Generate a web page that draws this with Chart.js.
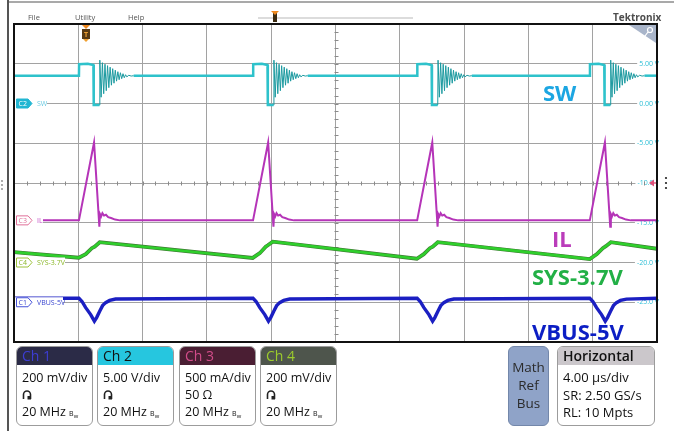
<!DOCTYPE html>
<html>
<head>
<meta charset="utf-8">
<title>Scope capture</title>
<script src="https://cdn.jsdelivr.net/npm/chart.js@4.4.1/dist/chart.umd.min.js"></script>
<style>
  body { margin: 0; width: 674px; height: 431px; position: relative; overflow: hidden; background: #fff; font-family: "Open Sans", sans-serif; }
  #scope { position: absolute; left: 0; top: 0; }
  .menu { position: absolute; top: 12px; font-size: 7.5px; color: #555; }
  .logo { position: absolute; left: 613px; top: 10px; font-size: 10px; font-weight: 700; color: #4d4d4d; }
  .big { position: absolute; font-size: 22px; font-weight: 700; line-height: 22px; white-space: nowrap; }
  .box { position: absolute; top: 346px; height: 80px; border: 1px solid #9c9c9c; border-radius: 6px; background: #fff; overflow: hidden; box-sizing: border-box; }
  .box .hd { height: 18px; line-height: 18px; padding-left: 5px; font-size: 14px; }
  .box .bd { padding: 4px 0 0 5px; font-size: 12.5px; line-height: 17px; color: #111; white-space: nowrap; }
  .bw { font-size: 7px; }
  .probe { display: inline-block; width: 10px; height: 10px; vertical-align: -1px; }
</style>
</head>
<body>
<canvas id="scope" width="674" height="431"></canvas>

<div class="menu" style="left:28px">File</div>
<div class="menu" style="left:75px">Utility</div>
<div class="menu" style="left:128px">Help</div>
<div style="position:absolute;left:258px;top:17px;width:155px;height:2px;background:#dcdcdc"></div>
<div style="position:absolute;left:273px;top:13px;width:4px;height:9px;background:#3a2a10"></div>
<div style="position:absolute;left:271px;top:11px;width:0;height:0;border-left:4px solid transparent;border-right:4px solid transparent;border-top:4px solid #f08a20"></div>
<div class="logo">Tektronix</div>

<div class="big" style="left:543px;top:81px;color:#1ca6e2">SW</div>
<div class="big" style="left:552px;top:227px;color:#ba3cba">IL</div>
<div class="big" style="left:532px;top:265px;color:#22b046">SYS-3.7V</div>
<div class="big" style="left:532px;top:320px;color:#0c1ec4">VBUS-5V</div>

<div class="box" style="left:16px;width:77px"><div class="hd" style="background:#2b2b47;color:#3d3dd4">Ch 1</div><div class="bd">200 mV/div<br><svg class="probe" viewBox="0 0 10 10"><path d="M1.5 9V4.5a3.5 3.5 0 0 1 7 0V9" fill="none" stroke="#222" stroke-width="1.6"/><rect x="5.5" y="6" width="3.5" height="3.5" fill="#222"/></svg><br>20 MHz <span class="bw">B<sub>w</sub></span></div></div>
<div class="box" style="left:97px;width:77px"><div class="hd" style="background:#26c6df;color:#111">Ch 2</div><div class="bd">5.00 V/div<br><svg class="probe" viewBox="0 0 10 10"><path d="M1.5 9V4.5a3.5 3.5 0 0 1 7 0V9" fill="none" stroke="#222" stroke-width="1.6"/><rect x="5.5" y="6" width="3.5" height="3.5" fill="#222"/></svg><br>20 MHz <span class="bw">B<sub>w</sub></span></div></div>
<div class="box" style="left:179px;width:77px"><div class="hd" style="background:#4a1e33;color:#d24c8a">Ch 3</div><div class="bd">500 mA/div<br>50 Ω<br>20 MHz <span class="bw">B<sub>w</sub></span></div></div>
<div class="box" style="left:260px;width:77px"><div class="hd" style="background:#4e554c;color:#9ccc2c">Ch 4</div><div class="bd">200 mV/div<br><svg class="probe" viewBox="0 0 10 10"><path d="M1.5 9V4.5a3.5 3.5 0 0 1 7 0V9" fill="none" stroke="#222" stroke-width="1.6"/><rect x="5.5" y="6" width="3.5" height="3.5" fill="#222"/></svg><br>20 MHz <span class="bw">B<sub>w</sub></span></div></div>

<div class="box" style="left:508px;width:41px;background:#8fa3c8;border-color:#7387aa;text-align:center;font-size:13.5px;line-height:18px;color:#2b2b2b;padding-top:11px">Math<br>Ref<br>Bus</div>
<div class="box" style="left:557px;width:98px"><div class="hd" style="background:#cbc7cb;color:#111;font-weight:600">Horizontal</div><div class="bd" style="font-size:13px;line-height:17.5px">4.00 µs/div<br>SR: 2.50 GS/s<br>RL: 10 Mpts</div></div>

<script>
// horizontal: 4 us/div over 10 divisions
const timeMax = 40;
// switching events (us from left edge)
const pulseStart = [4.04, 14.87, 25.08, 35.82];

// Ch2 SW (V): one switching event, time measured from pulse start (us)
const swBase = 3.5;
const swT = [0, 0.01, 0.55, 0.90, 0.92, 1.28, 1.30, 1.38, 1.46, 1.54, 1.62, 1.70, 1.78, 1.86, 1.94, 2.02, 2.10, 2.18, 2.26, 2.34, 2.42, 2.50, 2.58, 2.66, 2.74, 2.82, 2.90, 2.98, 3.10, 3.25, 3.40];
const swV = [3.50, 4.95, 5.00, 4.85, -0.20, -0.20, 5.45, 0.79, 5.13, 1.23, 4.94, 1.61, 4.76, 1.99, 4.57, 2.30, 4.38, 2.55, 4.19, 2.81, 4.00, 2.99, 3.87, 3.12, 3.75, 3.24, 3.62, 3.35, 3.55, 3.45, 3.50];

// Ch3 IL (A)
const ilBase = 0;
const ilT = [0, 0.94, 1.27, 1.31, 1.38, 1.46, 1.56, 1.68, 1.82, 2.00, 2.25, 2.55];
const ilV = [0, 0.98, -0.08, 0.08, 0.05, 0.09, 0.06, 0.07, 0.04, 0.03, 0.01, 0];

// Ch1 VBUS (V)
const vbBase = 5.02;
const vbT = [0, 0.19, 0.42, 0.73, 0.96, 1.10, 1.29, 1.47, 1.66, 1.91, 2.28];
const vbV = [5.02, 5.004, 4.973, 4.938, 4.905, 4.923, 4.955, 4.983, 4.998, 5.009, 5.016];

// Ch4 SYS (V), whole record
const sysT = [0, 4.03, 4.46, 4.84, 5.02, 5.33, 14.85, 15.29, 15.66, 15.79, 16.10, 25.06, 25.49, 25.87, 26.05, 26.36, 35.82, 36.26, 36.63, 36.82, 37.13, 40];
const sysV = [3.752, 3.724, 3.742, 3.772, 3.780, 3.802, 3.723, 3.747, 3.780, 3.787, 3.805, 3.719, 3.742, 3.772, 3.780, 3.802, 3.717, 3.742, 3.772, 3.782, 3.802, 3.769];

// vertical settings: volts (or amps) per div, offset, position in div from centre
const chan = {
  sw:   { scale: 5,   offset: 0,   pos: 2 },
  il:   { scale: 0.5, offset: 0,   pos: -0.94 },
  sys:  { scale: 0.2, offset: 3.7, pos: -2 },
  vbus: { scale: 0.2, offset: 5,   pos: -3 }
};

function range(c) {
  return { min: c.offset - (4 + c.pos) * c.scale, max: c.offset + (4 - c.pos) * c.scale };
}

function build(base, dt, val) {
  const pts = [{ x: 0, y: base }];
  pulseStart.forEach(s => dt.forEach((d, i) => pts.push({ x: s + d, y: val[i] })));
  pts.push({ x: timeMax, y: base });
  return pts;
}

const sysPts = sysT.map((t, i) => ({ x: t, y: sysV[i] }));

function ringing(t) {
  return pulseStart.some(s => t >= s + 1.28 && t < s + 3.3);
}

function tag(c, y, label, name, fill, stroke, txt, nameColor, nameW) {
  c.fillStyle = '#fff';
  c.fillRect(15, y - 5, 22 + nameW, 10);
  c.beginPath();
  c.moveTo(16.5, y - 4.5); c.lineTo(28, y - 4.5); c.lineTo(32, y); c.lineTo(28, y + 4.5); c.lineTo(16.5, y + 4.5);
  c.closePath();
  c.fillStyle = fill; c.fill();
  c.strokeStyle = stroke; c.lineWidth = 1; c.stroke();
  c.font = '7px "Open Sans"';
  c.textBaseline = 'middle'; c.textAlign = 'left';
  c.fillStyle = txt; c.fillText(label, 18.5, y + 0.5);
  c.fillStyle = nameColor; c.fillText(name, 37, y + 0.5);
}

const decor = {
  id: 'decor',
  beforeDraw(chart) {
    const c = chart.ctx;
    c.save();
    c.strokeStyle = '#555';
    c.lineWidth = 2;
    c.beginPath(); c.moveTo(8, 0); c.lineTo(8, 431); c.stroke();
    c.lineWidth = 1.2;
    c.beginPath(); c.moveTo(8, 2); c.lineTo(674, 2); c.stroke();
    c.restore();
  },
  beforeDatasetsDraw(chart) {
    const { ctx: c, scales: { x, ySW } } = chart;
    const cy = Math.round(ySW.getPixelForValue(-10)) + 0.5;
    const cx = Math.round(x.getPixelForValue(20)) + 0.5;
    c.save();
    c.strokeStyle = '#8a8a8a';
    c.lineWidth = 1;
    c.beginPath();
    for (let i = 0; i <= 50; i++) {
      const px = Math.round(x.getPixelForValue(i * 0.8)) + 0.5;
      c.moveTo(px, cy - 2); c.lineTo(px, cy + 2);
    }
    for (let i = 0; i <= 40; i++) {
      const py = Math.round(ySW.getPixelForValue(-30 + i)) + 0.5;
      c.moveTo(cx - 2, py); c.lineTo(cx + 2, py);
    }
    c.stroke();
    c.restore();
  },
  afterDatasetsDraw(chart) {
    const { ctx: c, chartArea: a, scales: s } = chart;
    c.save();
    tag(c, s.ySW.getPixelForValue(chan.sw.offset), 'C2', 'SW', '#22b6d2', '#22b6d2', '#fff', '#6ccbe2', 10);
    tag(c, s.yIL.getPixelForValue(chan.il.offset), 'C3', 'IL', '#fff', '#e0709a', '#e0709a', '#c24cc4', 6);
    tag(c, s.ySYS.getPixelForValue(chan.sys.offset), 'C4', 'SYS-3.7V', '#fff', '#9cc23a', '#8cb82a', '#8cb82a', 28);
    tag(c, s.yVBUS.getPixelForValue(chan.vbus.offset), 'C1', 'VBUS-5V', '#fff', '#4450d8', '#3a46d0', '#3a46d0', 26);

    // trigger position marker
    const tx = Math.round(s.x.getPixelForValue(4.46));
    c.fillStyle = '#f08a20';
    c.beginPath(); c.moveTo(tx - 4, a.top + 1); c.lineTo(tx + 4, a.top + 1); c.lineTo(tx, a.top + 5); c.fill();
    c.fillStyle = '#5a3a12';
    c.fillRect(tx - 4, a.top + 5, 8, 10);
    c.fillStyle = '#f0a030';
    c.font = 'bold 7px "Open Sans"'; c.textAlign = 'center'; c.textBaseline = 'middle';
    c.fillText('T', tx, a.top + 10.5);
    c.beginPath(); c.moveTo(tx - 3, a.top + 15); c.lineTo(tx + 3, a.top + 15); c.lineTo(tx, a.top + 18); c.fill();

    // corner zoom icon
    c.fillStyle = '#a9b5ca';
    c.beginPath(); c.moveTo(a.right - 28, a.top + 1); c.lineTo(a.right - 1, a.top + 1); c.lineTo(a.right - 1, a.top + 19); c.closePath(); c.fill();
    c.strokeStyle = '#fff'; c.lineWidth = 1.2;
    c.beginPath(); c.arc(a.right - 7, a.top + 6, 2.5, 0, Math.PI * 2); c.stroke();
    c.beginPath(); c.moveTo(a.right - 9, a.top + 8); c.lineTo(a.right - 12, a.top + 12); c.stroke();

    // channel 3 offset arrow at the right edge
    const cy = s.ySW.getPixelForValue(-10);
    c.fillStyle = '#e0507a';
    c.beginPath(); c.moveTo(a.right - 8, cy); c.lineTo(a.right - 3, cy - 3.5); c.lineTo(a.right - 3, cy + 3.5); c.fill();
    c.fillRect(a.right - 4, cy - 0.7, 4, 1.4);

    // plot frame
    c.strokeStyle = '#111'; c.lineWidth = 2;
    c.strokeRect(a.left, a.top, a.right - a.left, a.bottom - a.top);

    // side handles
    c.fillStyle = '#222';
    [-5, 0, 5].forEach(d => { c.beginPath(); c.arc(666, cy + d, 1.1, 0, Math.PI * 2); c.fill(); });
    c.fillStyle = '#888';
    [-4, 0, 4].forEach(d => { c.beginPath(); c.arc(2, cy + 2 + d, 0.9, 0, Math.PI * 2); c.fill(); });
    c.restore();
  }
};

const gridColor = '#a2a2a2';

new Chart(document.getElementById('scope'), {
  type: 'line',
  data: {
    datasets: [
      {
        label: 'SW',
        data: build(swBase, swT, swV),
        yAxisID: 'ySW',
        borderColor: '#2ec2cb',
        borderWidth: 2.5,
        segment: {
          borderColor: ctx => ringing(ctx.p0.parsed.x) ? '#1c9aa0' : undefined,
          borderWidth: ctx => ringing(ctx.p0.parsed.x) ? 1 : undefined
        },
        order: 1
      },
      {
        label: 'IL',
        data: build(ilBase, ilT, ilV),
        yAxisID: 'yIL',
        borderColor: '#b534b8',
        borderWidth: 2,
        order: 1
      },
      {
        label: 'SYS',
        data: sysPts,
        yAxisID: 'ySYS',
        borderColor: '#2fcf2c',
        borderWidth: 2.6,
        order: 1
      },
      {
        label: 'SYS edge',
        data: sysPts,
        yAxisID: 'ySYS',
        borderColor: '#3f7a34',
        borderWidth: 3.8,
        order: 2
      },
      {
        label: 'VBUS',
        data: build(vbBase, vbT, vbV),
        yAxisID: 'yVBUS',
        borderColor: '#1b1fc2',
        borderWidth: 3.4,
        order: 1
      }
    ]
  },
  options: {
    responsive: false,
    animation: false,
    devicePixelRatio: 1,
    layout: { padding: { left: 14, top: 24, right: 17, bottom: 89 } },
    elements: { point: { radius: 0 }, line: { tension: 0 } },
    plugins: { legend: { display: false }, tooltip: { enabled: false } },
    scales: {
      x: {
        type: 'linear', min: 0, max: timeMax,
        ticks: { display: false, stepSize: 4 },
        grid: { color: gridColor, drawTicks: false },
        border: { display: false },
        afterFit: sc => { sc.height = 0; }
      },
      ySW: {
        position: 'right', ...range(chan.sw),
        ticks: {
          stepSize: 5, mirror: true, padding: 2, color: '#2cbfd6',
          font: { size: 7, family: 'Open Sans' },
          showLabelBackdrop: true, backdropColor: '#fff', backdropPadding: { x: 2, y: 0 },
          callback: v => (v >= 10 || v <= -30) ? '' : (v === -10 ? '-10.0   ' : v.toPrecision(3) + ' V')
        },
        grid: { color: gridColor, drawTicks: false },
        border: { display: false },
        afterFit: sc => { sc.width = 0; }
      },
      yIL: { display: false, ...range(chan.il) },
      ySYS: { display: false, ...range(chan.sys) },
      yVBUS: { display: false, ...range(chan.vbus) }
    }
  },
  plugins: [decor]
});
</script>
</body>
</html>
